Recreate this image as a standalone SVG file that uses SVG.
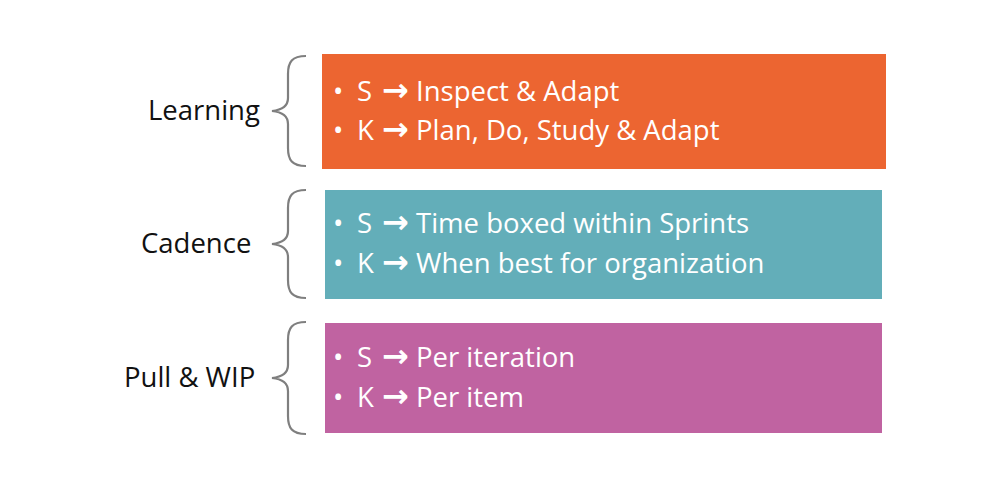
<svg xmlns="http://www.w3.org/2000/svg" width="1000" height="503" viewBox="0 0 1000 503">
<style>
.lbl{font-family:"Open Sans","Liberation Sans",sans-serif;font-size:27.5px;fill:#111}
.item{font-family:"Open Sans","Liberation Sans",sans-serif;font-size:27.5px;fill:#fff}
.ar{font-family:"DejaVu Sans",sans-serif;font-weight:bold;font-size:32px}
.brace{fill:none;stroke:#7f7f7f;stroke-width:2.2}
</style>
<rect width="1000" height="503" fill="#fff"/>
<g id="learning">
<rect x="322" y="54" width="564" height="115" fill="#ec6531"/>
<path class="brace" d="M306,56 C292,56 288,62 288,74 L288,98 C288,106 282,110 272,111 C282,112 288,116 288,124 L288,148 C288,160 292,166 306,166"/>
<text class="lbl" x="148" y="120">Learning</text>
<text class="item" x="333" y="101">•<tspan x="357">S</tspan><tspan class="ar" x="382">→</tspan><tspan x="416">Inspect &amp; Adapt</tspan></text>
<text class="item" x="333" y="140">•<tspan x="357">K</tspan><tspan class="ar" x="382">→</tspan><tspan x="416">Plan, Do, Study &amp; Adapt</tspan></text>
</g>
<g id="cadence">
<rect x="325" y="190" width="557" height="109" fill="#63aeb9"/>
<path class="brace" d="M306,190 C292,190 288,196 288,208 L288,231 C288,239 282,243 272,244 C282,245 288,249 288,257 L288,280 C288,292 292,298 306,298"/>
<text class="lbl" x="141" y="253">Cadence</text>
<text class="item" x="333" y="233">•<tspan x="357">S</tspan><tspan class="ar" x="382">→</tspan><tspan x="416">Time boxed within Sprints</tspan></text>
<text class="item" x="333" y="273">•<tspan x="357">K</tspan><tspan class="ar" x="382">→</tspan><tspan x="416">When best for organization</tspan></text>
</g>
<g id="pullwip">
<rect x="325" y="323" width="557" height="110" fill="#c063a1"/>
<path class="brace" d="M306,322 C292,322 288,328 288,340 L288,365 C288,373 282,377 272,378 C282,379 288,383 288,391 L288,416 C288,428 292,434 306,434"/>
<text class="lbl" x="124" y="387">Pull &amp; WIP</text>
<text class="item" x="333" y="367">•<tspan x="357">S</tspan><tspan class="ar" x="382">→</tspan><tspan x="416">Per iteration</tspan></text>
<text class="item" x="333" y="407">•<tspan x="357">K</tspan><tspan class="ar" x="382">→</tspan><tspan x="416">Per item</tspan></text>
</g>
<g id="connectors"/>
</svg>
